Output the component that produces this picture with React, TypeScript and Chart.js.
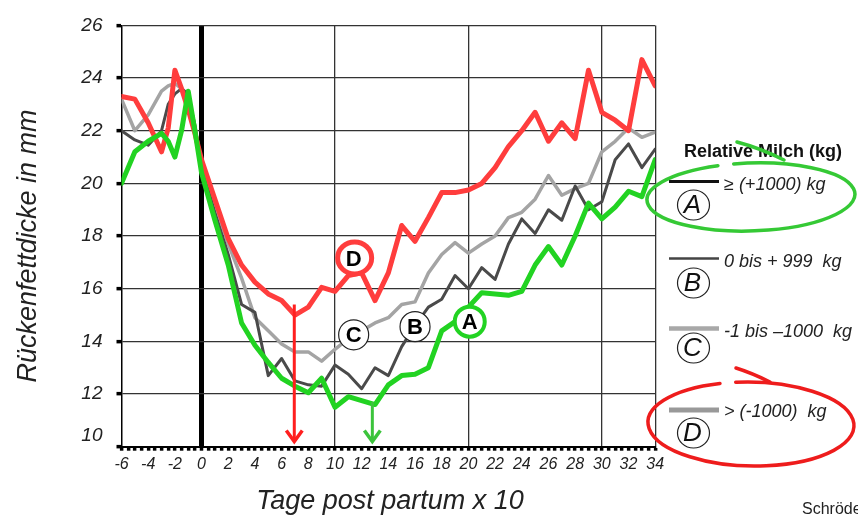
import React, { useEffect, useRef } from "react";
import { Chart, registerables } from "chart.js";

Chart.register(...registerables);

// ---------------- data ----------------
const days = [
  -6, -5, -4, -3, -2.5, -2, -1.5, -1, -0.5, 0, 1, 2, 3, 4, 5, 6, 7, 8, 9, 10, 11, 12,
  13, 14, 15, 16, 17, 18, 19, 20, 21, 22, 23, 24, 25, 26, 27, 28, 29, 30, 31, 32, 33, 34,
];

const seriesA = [
  20.0, 21.2, 21.6, 21.9, 21.6, 21.0, 22.0, 23.5, 22.0, 20.4, 18.6, 16.9, 14.7, 13.85, 13.2,
  12.6, 12.3, 12.05, 12.6, 11.5, 11.9, 11.75, 11.6, 12.35, 12.7, 12.75, 13.0, 14.4, 14.75,
  15.3, 15.85, 15.8, 15.75, 15.9, 16.9, 17.6, 16.9, 18.0, 19.25, 18.65, 19.1, 19.7, 19.5, 20.9,
];
const seriesB = [
  22.0, 21.65, 21.45, 22.0, 23.0, 23.4, 23.6, 23.4, 22.2, 20.6, 18.9, 17.3, 15.4, 15.1, 12.7,
  13.35, 12.5, 12.35, 12.3, 13.1, 12.75, 12.2, 13.0, 12.7, 13.8, 14.6, 15.3, 15.6, 16.5, 16.0,
  16.8, 16.35, 17.7, 18.65, 18.1, 19.0, 18.6, 19.9, 19.0, 19.3, 20.9, 21.5, 20.6, 21.3,
];
const seriesC = [
  23.2, 22.0, 22.6, 23.5, 23.7, 23.8, 23.6, 23.2, 22.2, 20.7, 19.3, 17.7, 16.4, 14.9, 14.4,
  13.9, 13.6, 13.6, 13.25, 13.7, 14.1, 14.4, 14.7, 14.9, 15.4, 15.5, 16.6, 17.3, 17.75, 17.35,
  17.7, 18.0, 18.7, 18.9, 19.4, 20.3, 19.55, 19.8, 20.0, 21.2, 21.6, 22.1, 21.75, 21.95,
];
const seriesD = [
  23.3, 23.2, 22.3, 21.2, 22.1, 24.3, 23.6, 22.8, 21.9, 20.9, 19.4, 17.9, 16.9, 16.25, 15.8,
  15.55, 15.0, 15.3, 16.05, 15.9, 16.5, 16.6, 15.55, 16.6, 18.4, 17.8, 18.7, 19.65, 19.65, 19.75,
  20.0, 20.6, 21.4, 22.0, 22.7, 21.6, 22.3, 21.7, 24.3, 22.7, 22.4, 22.0, 24.7, 23.7,
];

const seriesNames = ["A", "B", "C", "D"];
const legendTexts = ["≥ (+1000) kg", "0 bis + 999  kg", "-1 bis –1000  kg", "> (-1000)  kg"];
const legendTitle = "Relative Milch (kg)";
const xTitle = "Tage post partum x 10";
const yTitle = "Rückenfettdicke in mm";
const sourceText = "Schröder";

// in-plot circled labels (data units)
const labelX = [20.1, 16.0, 11.4, 11.4];
const labelY = [14.75, 14.56, 14.25, 17.13];

// arrows (data units)
const arrowX = [6.95, 12.8];
const arrowFrom = [15.4, 11.7];
const arrowTo = [10.2, 10.2];

const FONT = "'Liberation Sans', Arial, Helvetica, sans-serif";
const GREEN = "#22d322";
const RED = "#ff3d3d";

const isMultiple = (v: number, m: number) => Math.abs(v - Math.round(v / m) * m) < 1e-6;

const annotPlugin = {
  id: "annot",
  afterDatasetsDraw(chart: any) {
    const { ctx } = chart;
    const xs = chart.scales.x;
    const ys = chart.scales.y;
    ctx.save();
    // arrows
    const arrowColors = ["#ff1f1f", "#3cc43c"];
    for (let i = 0; i < arrowX.length; i++) {
      const px = xs.getPixelForValue(arrowX[i]);
      const p1 = ys.getPixelForValue(arrowFrom[i]);
      const p2 = ys.getPixelForValue(arrowTo[i]);
      ctx.strokeStyle = arrowColors[i];
      ctx.lineWidth = 3;
      ctx.lineCap = "butt";
      ctx.beginPath();
      ctx.moveTo(px, p1);
      ctx.lineTo(px, p2);
      ctx.stroke();
      ctx.lineWidth = 3.5;
      ctx.lineJoin = "miter";
      ctx.beginPath();
      ctx.moveTo(px - 8, p2 - 11);
      ctx.lineTo(px, p2);
      ctx.lineTo(px + 8, p2 - 11);
      ctx.stroke();
    }
    // circled labels
    for (let i = 0; i < seriesNames.length; i++) {
      const px = xs.getPixelForValue(labelX[i]);
      const py = ys.getPixelForValue(labelY[i]);
      const name = seriesNames[i];
      ctx.beginPath();
      if (name === "D") {
        ctx.fillStyle = "#ffffff";
        ctx.ellipse(px, py, 15, 14, 0, 0, Math.PI * 2);
        ctx.fill();
        ctx.strokeStyle = RED;
        ctx.lineWidth = 5;
        ctx.beginPath();
        ctx.ellipse(px + 1, py - 1, 17, 16, 0, 0, Math.PI * 2);
        ctx.stroke();
      } else if (name === "A") {
        ctx.fillStyle = "#ffffff";
        ctx.arc(px, py, 15, 0, Math.PI * 2);
        ctx.fill();
        ctx.strokeStyle = GREEN;
        ctx.lineWidth = 4;
        ctx.stroke();
      } else {
        ctx.fillStyle = "#ffffff";
        ctx.arc(px, py, 15, 0, Math.PI * 2);
        ctx.fill();
        ctx.strokeStyle = "#222";
        ctx.lineWidth = 1.2;
        ctx.stroke();
      }
      ctx.fillStyle = "#000";
      ctx.font = `bold 22px ${FONT}`;
      ctx.textAlign = "center";
      ctx.textBaseline = "middle";
      ctx.fillText(name, px, py + 1);
    }
    ctx.restore();
  },
  afterDraw(chart: any) {
    const { ctx } = chart;
    ctx.save();
    ctx.fillStyle = "#222";
    // axis titles
    ctx.font = `italic 27px ${FONT}`;
    ctx.textAlign = "center";
    ctx.textBaseline = "middle";
    ctx.fillText(xTitle, 390, 501);
    ctx.save();
    ctx.translate(28, 246);
    ctx.rotate(-Math.PI / 2);
    ctx.fillText(yTitle, 0, 0);
    ctx.restore();

    // legend
    ctx.fillStyle = "#111";
    ctx.font = `bold 18px ${FONT}`;
    ctx.textAlign = "center";
    ctx.fillText(legendTitle, 763, 152);

    const lineY = [181.5, 258.5, 328.5, 410];
    const lineColors = ["#111111", "#444444", "#a8a8a8", "#999999"];
    const lineWidths = [3, 2.5, 4.5, 5];
    const textY = [185, 262, 332, 412];
    const circleY = [205, 283, 348, 433];
    for (let i = 0; i < 4; i++) {
      ctx.strokeStyle = lineColors[i];
      ctx.lineWidth = lineWidths[i];
      ctx.beginPath();
      ctx.moveTo(669, lineY[i]);
      ctx.lineTo(719, lineY[i]);
      ctx.stroke();
      ctx.fillStyle = "#222";
      ctx.font = `italic 18px ${FONT}`;
      ctx.textAlign = "left";
      ctx.fillText(legendTexts[i], 724, textY[i]);
      ctx.beginPath();
      ctx.strokeStyle = "#222";
      ctx.lineWidth = 1.2;
      ctx.ellipse(693.5, circleY[i], 16, 15, 0, 0, Math.PI * 2);
      ctx.stroke();
      ctx.font = `italic 26px ${FONT}`;
      ctx.textAlign = "center";
      ctx.fillStyle = "#111";
      ctx.fillText(seriesNames[i], 692.5, circleY[i] + 1);
    }

    // hand-drawn annotation ellipses
    ctx.lineCap = "round";
    ctx.strokeStyle = "#35c935";
    ctx.lineWidth = 3.5;
    ctx.beginPath();
    ctx.ellipse(751, 197, 104, 34, -0.03, Math.PI * 1.45, Math.PI * 3.4);
    ctx.stroke();
    ctx.beginPath();
    ctx.moveTo(737, 142);
    ctx.quadraticCurveTo(760, 148, 784, 160);
    ctx.stroke();

    ctx.strokeStyle = "#ee1c1c";
    ctx.beginPath();
    ctx.ellipse(751, 424, 103, 42, 0.02, Math.PI * 1.45, Math.PI * 3.4);
    ctx.stroke();
    ctx.beginPath();
    ctx.moveTo(736, 368);
    ctx.quadraticCurveTo(752, 373, 770, 382);
    ctx.stroke();

    // source text
    ctx.fillStyle = "#222";
    ctx.font = `16px ${FONT}`;
    ctx.textAlign = "left";
    ctx.textBaseline = "alphabetic";
    ctx.fillText(sourceText, 802, 514);
    ctx.restore();
  },
};

export default function App() {
  const canvasRef = useRef<HTMLCanvasElement | null>(null);

  useEffect(() => {
    if (!canvasRef.current) return;
    const mk = (d: number[]) => days.map((x, i) => ({ x, y: d[i] }));
    const chart = new Chart(canvasRef.current, {
      type: "line",
      data: {
        datasets: [
          { label: "A", data: mk(seriesA), borderColor: GREEN, borderWidth: 5 },
          { label: "D", data: mk(seriesD), borderColor: RED, borderWidth: 5 },
          { label: "B", data: mk(seriesB), borderColor: "#4a4a4a", borderWidth: 3 },
          { label: "C", data: mk(seriesC), borderColor: "#a4a4a4", borderWidth: 3.5 },
        ].map((d) => ({
          ...d,
          pointRadius: 0,
          pointHoverRadius: 0,
          tension: 0,
          fill: false,
          borderJoinStyle: "round" as const,
          borderCapStyle: "round" as const,
        })),
      },
      options: {
        animation: false,
        responsive: false,
        devicePixelRatio: 1,
        events: [],
        layout: { padding: { top: 20, right: 202.8, left: 0, bottom: 0 } },
        plugins: { legend: { display: false }, tooltip: { enabled: false }, title: { display: false } },
        scales: {
          x: {
            type: "linear",
            min: -6,
            max: 34,
            afterFit: (s: any) => {
              s.height = 71.3;
            },
            ticks: {
              stepSize: 0.5,
              autoSkip: false,
              maxRotation: 0,
              minRotation: 0,
              padding: 4,
              color: "#222",
              font: { family: FONT, size: 16, style: "italic" },
              callback: (v: any) => (isMultiple(Number(v), 2) ? String(Math.round(Number(v))) : ""),
            },
            grid: {
              color: (c: any) => {
                const v = c.tick ? c.tick.value : 0;
                return isMultiple(v, 10) || Math.abs(v - 34) < 1e-6 ? (Math.abs(v) < 1e-6 ? "#000" : "#333") : "rgba(0,0,0,0)";
              },
              lineWidth: (c: any) => (c.tick && Math.abs(c.tick.value) < 1e-6 ? 5 : 1.3),
              tickColor: "#000",
              tickWidth: 3.5,
              tickLength: 4,
            },
            border: { color: "#000", width: 2 },
          },
          y: {
            min: 10,
            max: 26,
            afterFit: (s: any) => {
              s.width = 121.5;
            },
            ticks: {
              stepSize: 2,
              padding: 14,
              color: "#222",
              font: { family: FONT, size: 19, style: "italic" },
              callback: (v: any) => (Number(v) === 10 ? ["10", ""] : String(v)),
            },
            grid: {
              color: "#333",
              lineWidth: 1.3,
              tickColor: "#000",
              tickWidth: 3.5,
              tickLength: 5,
            },
            border: { color: "#000", width: 1.5 },
          },
        },
      },
      plugins: [annotPlugin],
    } as any);
    return () => chart.destroy();
  }, []);

  return (
    <div style={{ position: "fixed", left: 0, top: 0, width: 858, height: 518, background: "#fff", overflow: "hidden" }}>
      <canvas ref={canvasRef} width={858} height={518} style={{ display: "block" }} />
    </div>
  );
}
